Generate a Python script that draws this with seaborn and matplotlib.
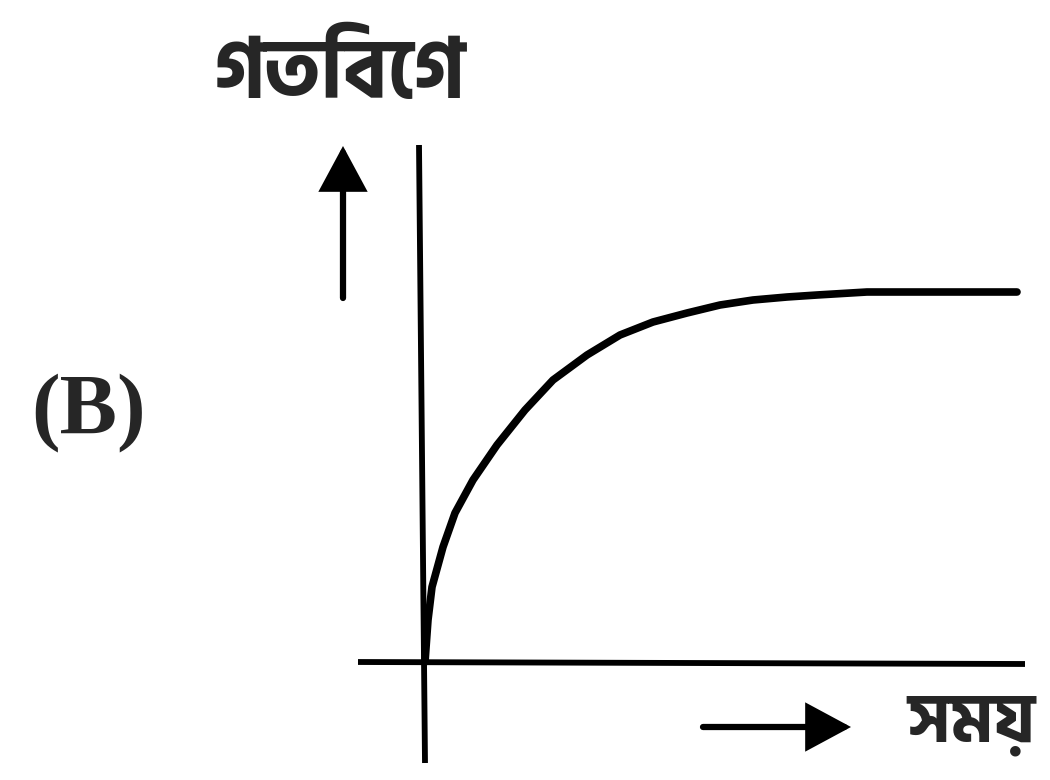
import numpy as np
import pandas as pd
import matplotlib
matplotlib.use("Agg")
import matplotlib.pyplot as plt
import seaborn as sns

# velocity-time curve (time, velocity), origin at the axes crossing
time_vals = [0.0, 0.03, 0.07, 0.18, 0.30, 0.48, 0.72, 1.00, 1.28, 1.62, 1.95,
             2.28, 2.62, 2.95, 3.28, 3.62, 3.92, 4.42, 5.92]
speed_vals = [0.0, 0.42, 0.75, 1.15, 1.49, 1.82, 2.17, 2.52, 2.82, 3.07, 3.27,
              3.40, 3.49, 3.57, 3.62, 3.65, 3.67, 3.70, 3.70]

y_label = "গতিবেগ"
x_label = "সময়"
panel_label = "(B)"

sns.set_theme(style="white")
plt.rcParams["font.family"] = ["Hind Siliguri", "DejaVu Sans"]

fig = plt.figure(figsize=(10.5, 7.8), dpi=100)
ax = fig.add_axes([0, 0, 1, 1])
ax.set_xlim(-4.25, 6.25)
ax.set_ylim(-1.18, 6.62)
ax.axis("off")

df = pd.DataFrame({"t": time_vals, "v": speed_vals})
sns.lineplot(data=df, x="t", y="v", ax=ax, color="black", lw=5.5, sort=False)
ax.lines[-1].set_solid_joinstyle("round")

# axes drawn by hand like in the sketch
ax.plot([-0.06, 0.0], [5.17, -1.01], color="black", lw=4.2, solid_capstyle="butt")
ax.plot([-0.67, 6.0], [0.0, -0.02], color="black", lw=4.2, solid_capstyle="butt")

# direction arrows
arr = dict(arrowstyle="-|>,head_length=1.3,head_width=0.7", lw=4.5, color="black",
           mutation_scale=20, shrinkA=0, shrinkB=0, joinstyle="miter")
ax.annotate("", xy=(-0.82, 5.16), xytext=(-0.82, 3.64), arrowprops=arr)
ax.annotate("", xy=(4.26, -0.65), xytext=(2.78, -0.65), arrowprops=arr)

ax.text(-0.85, 5.88, y_label, fontsize=60, fontweight="bold", ha="center", va="center")
ax.text(4.82, -0.62, x_label, fontsize=50, fontweight="bold", ha="left", va="center")
ax.text(-3.36, 2.49, panel_label, fontsize=62, fontweight="bold", ha="center", va="center",
        family=["Liberation Serif", "DejaVu Serif"])

fig.savefig("out.png", dpi=100, facecolor="white")
